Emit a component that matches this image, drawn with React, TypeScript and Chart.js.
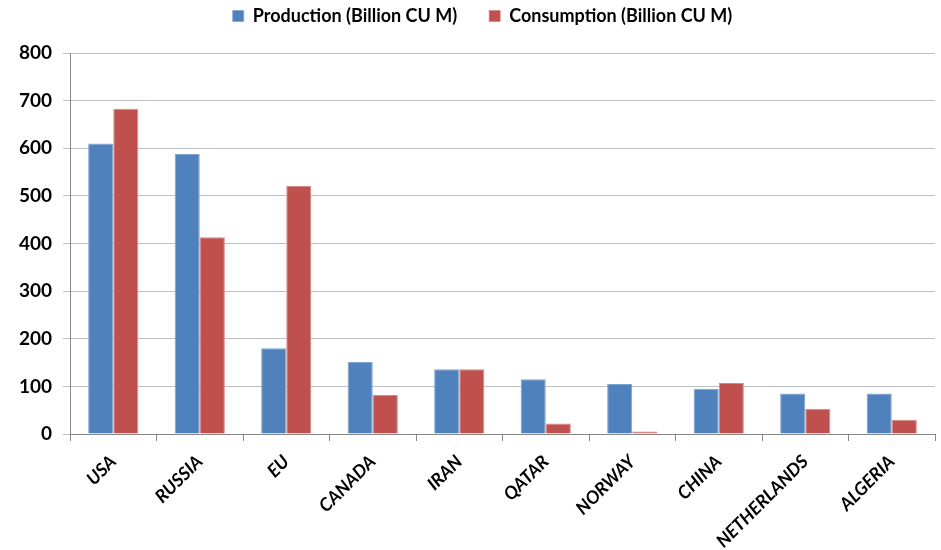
import React, { useEffect, useRef } from "react";
import { Chart, registerables } from "chart.js";

Chart.register(...registerables);

const categories = ["USA", "RUSSIA", "EU", "CANADA", "IRAN", "QATAR", "NORWAY", "CHINA", "NETHERLANDS", "ALGERIA"];
const production = [610, 588, 180, 151, 136, 115, 105, 95, 85, 85];
const consumption = [683, 413, 521, 82, 136, 22, 5, 107, 53, 30];
const seriesNames = ["Production (Billion CU M)", "Consumption (Billion CU M)"];

const FONT = "Lato, 'Liberation Sans', sans-serif";

export default function App() {
  const ref = useRef<HTMLCanvasElement | null>(null);
  useEffect(() => {
    document.body.style.margin = "0";
    const legendFix = {
      id: "legendFix",
      afterInit(chart: any) {
        const lg = chart.legend;
        if (lg) {
          const orig = lg.fit.bind(lg);
          lg.fit = () => {
            orig();
            lg.height = 53;
          };
        }
      },
      afterLayout(chart: any) {
        const lg = chart.legend;
        if (lg) {
          lg.left += 30;
          lg.top = -25;
        }
      },
    };
    const chart = new Chart(ref.current!, {
      type: "bar",
      data: {
        labels: categories,
        datasets: [
          {
            label: seriesNames[0],
            data: production,
            backgroundColor: "#4F81BD",
            borderColor: "#7FA3D3",
            borderWidth: { top: 1, left: 1, right: 1, bottom: 0 },
            categoryPercentage: 0.58,
            barPercentage: 1.0,
          },
          {
            label: seriesNames[1],
            data: consumption,
            backgroundColor: "#C0504D",
            borderColor: "#D88583",
            borderWidth: { top: 1, left: 1, right: 1, bottom: 0 },
            categoryPercentage: 0.58,
            barPercentage: 1.0,
          },
        ],
      },
      options: {
        animation: false,
        responsive: false,
        maintainAspectRatio: false,
        layout: { padding: { left: 0, right: 6, top: 0, bottom: 0 } },
        plugins: {
          legend: {
            position: "top",
            labels: {
              boxWidth: 11,
              boxHeight: 11,
              padding: 32,
              color: "#000",
              font: { family: FONT, size: 18, weight: "bold" },
            },
          },
          tooltip: { enabled: false },
        },
        scales: {
          x: {
            afterFit(s: any) {
              s.height = 116;
            },
            grid: {
              display: true,
              offset: true,
              drawOnChartArea: false,
              drawTicks: true,
              tickLength: 7,
              color: "#868686",
            },
            border: { display: true, color: "#868686", width: 1 },
            ticks: {
              maxRotation: 45,
              minRotation: 45,
              color: "#000",
              padding: 10,
              font: { family: FONT, size: 18, weight: "bold", style: "italic" },
            },
          },
          y: {
            min: 0,
            max: 800,
            afterFit(s: any) {
              s.width = 70;
            },
            grid: {
              color: "#BFBFBF",
              lineWidth: 1,
              tickLength: 7,
              drawTicks: true,
            },
            border: { display: true, color: "#868686", width: 1 },
            ticks: {
              stepSize: 100,
              color: "#000",
              padding: 11,
              font: { family: FONT, size: 19, weight: "bold" },
            },
          },
        },
      },
      plugins: [legendFix],
    });
    return () => chart.destroy();
  }, []);
  return (
    <div style={{ width: 941, height: 550, background: "#fff" }}>
      <canvas ref={ref} width={941} height={550} style={{ display: "block" }} />
    </div>
  );
}
